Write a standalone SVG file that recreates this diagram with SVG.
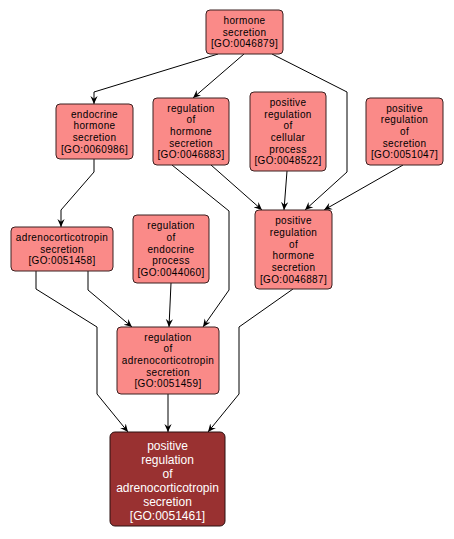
<svg xmlns="http://www.w3.org/2000/svg" width="454" height="539" viewBox="0 0 454 539">
<style>
.n rect{fill:#fa8a88;stroke:#3a2020;stroke-width:1}
.n text{font-family:"Liberation Sans",Arial,sans-serif;font-size:10px;letter-spacing:0.35px;fill:#000;text-anchor:middle}
.d rect{fill:#993131;stroke:#2a1010;stroke-width:1}
.d text{font-family:"Liberation Sans",Arial,sans-serif;font-size:12px;fill:#fff;text-anchor:middle}
.e polyline{fill:none;stroke:#000;stroke-width:1;marker-end:url(#ah)}
</style>
<defs>
<marker id="ah" viewBox="0 0 10 10" refX="10" refY="5" markerWidth="8" markerHeight="8" markerUnits="userSpaceOnUse" orient="auto">
<path d="M0,0.5 L10,5 L0,9.5 L3.5,5 z" fill="#000"/>
</marker>
</defs>
<rect width="454" height="539" fill="#fff"/>
<g id="connectors" class="e">
<polyline points="218,54 94,92 94,104"/>
<polyline points="244,54 193,98"/>
<polyline points="272,54 347,92 347,172 305,210"/>
<polyline points="211,165 262,210"/>
<polyline points="287,171 284,210"/>
<polyline points="403,165 324,210"/>
<polyline points="94,159 94,172 61,210 61,227"/>
<polyline points="172,165 229,211 229,290 203,327"/>
<polyline points="88,271 88,290 132,327"/>
<polyline points="171,283 169,327"/>
<polyline points="36,271 36,289 97,327 97,394 128,432"/>
<polyline points="293,289 239,327 239,394 208,432"/>
<polyline points="168,394 168,432"/>
</g>
<g id="GO0046879" class="n">
<rect x="206" y="10" width="77" height="44" rx="4"/>
<text x="244.5"><tspan x="244.5" y="24">hormone</tspan><tspan x="244.5" y="35.7">secretion</tspan><tspan x="244.5" y="47.4">[GO:0046879]</tspan></text>
</g>
<g id="GO0060986" class="n">
<rect x="56" y="104" width="77" height="55" rx="4"/>
<text><tspan x="94.5" y="117.5">endocrine</tspan><tspan x="94.5" y="129.2">hormone</tspan><tspan x="94.5" y="140.9">secretion</tspan><tspan x="94.5" y="152.6">[GO:0060986]</tspan></text>
</g>
<g id="GO0046883" class="n">
<rect x="153" y="98" width="76" height="67" rx="4"/>
<text><tspan x="191" y="111.6">regulation</tspan><tspan x="191" y="123.3">of</tspan><tspan x="191" y="135">hormone</tspan><tspan x="191" y="146.7">secretion</tspan><tspan x="191" y="158.4">[GO:0046883]</tspan></text>
</g>
<g id="GO0048522" class="n">
<rect x="250" y="92" width="76" height="79" rx="4"/>
<text><tspan x="288" y="105.8">positive</tspan><tspan x="288" y="117.5">regulation</tspan><tspan x="288" y="129.2">of</tspan><tspan x="288" y="140.9">cellular</tspan><tspan x="288" y="152.6">process</tspan><tspan x="288" y="164.3">[GO:0048522]</tspan></text>
</g>
<g id="GO0051047" class="n">
<rect x="366" y="98" width="77" height="67" rx="4"/>
<text><tspan x="404.5" y="111.6">positive</tspan><tspan x="404.5" y="123.3">regulation</tspan><tspan x="404.5" y="135">of</tspan><tspan x="404.5" y="146.7">secretion</tspan><tspan x="404.5" y="158.4">[GO:0051047]</tspan></text>
</g>
<g id="GO0051458" class="n">
<rect x="11" y="227" width="102" height="44" rx="4"/>
<text><tspan x="62" y="241">adrenocorticotropin</tspan><tspan x="62" y="252.7">secretion</tspan><tspan x="62" y="264.4">[GO:0051458]</tspan></text>
</g>
<g id="GO0044060" class="n">
<rect x="133" y="215" width="76" height="68" rx="4"/>
<text><tspan x="171" y="229.1">regulation</tspan><tspan x="171" y="240.8">of</tspan><tspan x="171" y="252.5">endocrine</tspan><tspan x="171" y="264.2">process</tspan><tspan x="171" y="275.9">[GO:0044060]</tspan></text>
</g>
<g id="GO0046887" class="n">
<rect x="255" y="210" width="77" height="79" rx="4"/>
<text><tspan x="293.5" y="224.2">positive</tspan><tspan x="293.5" y="235.9">regulation</tspan><tspan x="293.5" y="247.6">of</tspan><tspan x="293.5" y="259.3">hormone</tspan><tspan x="293.5" y="271">secretion</tspan><tspan x="293.5" y="282.7">[GO:0046887]</tspan></text>
</g>
<g id="GO0051459" class="n">
<rect x="117" y="327" width="102" height="67" rx="4"/>
<text><tspan x="168" y="340.6">regulation</tspan><tspan x="168" y="352.3">of</tspan><tspan x="168" y="364">adrenocorticotropin</tspan><tspan x="168" y="375.7">secretion</tspan><tspan x="168" y="387.4">[GO:0051459]</tspan></text>
</g>
<g id="GO0051461" class="d">
<rect x="110" y="432" width="115" height="94" rx="5"/>
<text><tspan x="167.5" y="449.5">positive</tspan><tspan x="167.5" y="463.5">regulation</tspan><tspan x="167.5" y="477.5">of</tspan><tspan x="167.5" y="491.5">adrenocorticotropin</tspan><tspan x="167.5" y="505.5">secretion</tspan><tspan x="167.5" y="519.5">[GO:0051461]</tspan></text>
</g>
</svg>
